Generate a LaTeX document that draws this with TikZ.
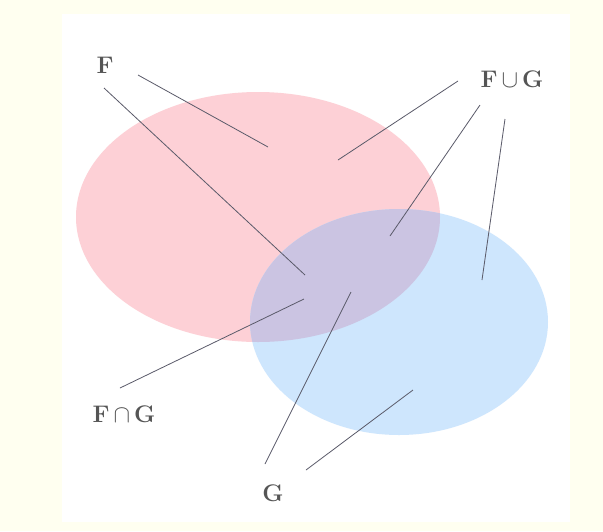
\documentclass[tikz,border=0pt]{standalone}
\definecolor{cream}{RGB}{255,255,240}
\definecolor{pinkF}{RGB}{253,208,214}
\definecolor{blueG}{RGB}{206,230,253}
\definecolor{lav}{RGB}{203,196,226}
\definecolor{linegray}{RGB}{90,90,105}
\definecolor{labelgray}{RGB}{85,85,85}
\begin{document}
\begin{tikzpicture}[x=1pt,y=-1pt,
  lbl/.style={text=labelgray,font=\fontsize{24}{28}\selectfont\bfseries,inner sep=0pt,anchor=base},
  conn/.style={draw=linegray,line width=0.8pt}]
\fill[cream] (0,0) rectangle (603,531);
\useasboundingbox (0,0) rectangle (603,531);
\fill[white] (62,14) rectangle (570,522);
% sets
\fill[pinkF] (258,217) ellipse [x radius=182, y radius=125];
\fill[blueG] (399,322) ellipse [x radius=149, y radius=113];
\begin{scope}
  \clip (258,217) ellipse [x radius=182, y radius=125];
  \fill[lav] (399,322) ellipse [x radius=149, y radius=113];
\end{scope}
% labels
\node[lbl] (F) at (105,73) {F};
\node[lbl] (FuG) at (512,87) {F\,$\cup$\,G};
\node[lbl] (FnG) at (124,422) {F\,$\cap$\,G};
\node[lbl] (G) at (273,501) {G};
% connector ends
\coordinate (f1s) at (138,75);  \coordinate (f1e) at (268,147);
\coordinate (f2s) at (104,88);  \coordinate (f2e) at (305,275);
\coordinate (u1s) at (458,81);  \coordinate (u1e) at (338,160);
\coordinate (u2s) at (480,105); \coordinate (u2e) at (390,236);
\coordinate (u3s) at (505,119); \coordinate (u3e) at (482,280);
\coordinate (i1s) at (120,388); \coordinate (i1e) at (304,299);
\coordinate (g1s) at (265,464); \coordinate (g1e) at (351,292);
\coordinate (g2s) at (306,470); \coordinate (g2e) at (413,390);
\draw[conn] (f1s) -- (f1e);
\draw[conn] (f2s) -- (f2e);
\draw[conn] (u1s) -- (u1e);
\draw[conn] (u2s) -- (u2e);
\draw[conn] (u3s) -- (u3e);
\draw[conn] (i1s) -- (i1e);
\draw[conn] (g1s) -- (g1e);
\draw[conn] (g2s) -- (g2e);
\end{tikzpicture}
\end{document}
